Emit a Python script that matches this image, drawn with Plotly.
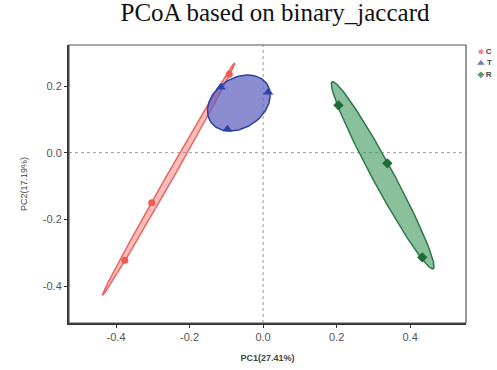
import numpy as np
import plotly.graph_objects as go

groups = ["C", "T", "R"]
c_pc1 = [-0.092, -0.303, -0.376]
c_pc2 = [0.235, -0.150, -0.323]
t_pc1 = [-0.115, 0.014, -0.097]
t_pc2 = [0.196, 0.181, 0.070]
r_pc1 = [0.205, 0.338, 0.433]
r_pc2 = [0.142, -0.032, -0.314]

x_ticks = [-0.4, -0.2, 0.0, 0.2, 0.4]
y_ticks = [-0.4, -0.2, 0.0, 0.2]

ELL_SCALE = 1.22

def ellipse(xs, ys, k=ELL_SCALE, n=120):
    pts = np.column_stack([xs, ys])
    mu = pts.mean(axis=0)
    cov = np.cov(pts.T)
    vals, vecs = np.linalg.eigh(cov)
    vals = np.clip(vals, 1e-8, None)
    t = np.linspace(0, 2 * np.pi, n)
    circ = np.vstack([np.cos(t), np.sin(t)])
    e = vecs @ (np.sqrt(vals)[:, None] * circ) * k
    return mu[0] + e[0], mu[1] + e[1]

styles = {
    "C": dict(x=c_pc1, y=c_pc2, fill="rgba(240,110,105,0.45)", line="#F0625F",
              mcolor="#EE5A55", symbol="circle", size=7, lsize=6),
    "T": dict(x=t_pc1, y=t_pc2, fill="rgba(95,95,190,0.72)", line="#2E3FA6",
              mcolor="#2A45A8", symbol="triangle-up", size=9, lsize=8),
    "R": dict(x=r_pc1, y=r_pc2, fill="rgba(60,150,90,0.6)", line="#2D7A48",
              mcolor="#1E6B3A", symbol="diamond", size=8, lsize=6),
}

fig = go.Figure()
for g in groups:
    s = styles[g]
    ex, ey = ellipse(s["x"], s["y"])
    fig.add_trace(go.Scatter(x=ex, y=ey, mode="lines", fill="toself",
                             fillcolor=s["fill"], line=dict(color=s["line"], width=1.5),
                             showlegend=False, hoverinfo="skip"))
for g in groups:
    s = styles[g]
    fig.add_trace(go.Scatter(x=s["x"], y=s["y"], mode="markers", name=g, showlegend=False,
                             marker=dict(symbol=s["symbol"], size=s["size"], color=s["mcolor"])))

# manual legend in its own small axes
n = len(groups)
fig.add_trace(go.Scatter(
    x=[0] * n, y=list(range(n - 1, -1, -1)), mode="markers+text",
    text=[f"<b>{g}</b>" for g in groups], textposition="middle right",
    textfont=dict(family="Liberation Sans", size=8, color="#444444"),
    marker=dict(symbol=[styles[g]["symbol"] for g in groups],
                size=[styles[g]["lsize"] for g in groups],
                color=[styles[g]["mcolor"] for g in groups]),
    xaxis="x2", yaxis="y2", showlegend=False, hoverinfo="skip", cliponaxis=False))

fig.add_shape(type="line", x0=0, x1=0, y0=0, y1=1, xref="x", yref="y domain",
              line=dict(color="#999999", width=1, dash="dot"), layer="below")
fig.add_shape(type="line", x0=0, x1=1, y0=0, y1=0, xref="x domain", yref="y",
              line=dict(color="#999999", width=1, dash="dot"), layer="below")
fig.add_shape(type="rect", x0=0, x1=1, y0=0, y1=1, xref="x domain", yref="y domain",
              line=dict(color="#555555", width=1.2), layer="above")

W, H = 497, 370
fig.update_layout(
    width=W, height=H,
    margin=dict(l=0, r=0, t=0, b=0),
    paper_bgcolor="white", plot_bgcolor="white",
    showlegend=False,
    title=dict(text="PCoA based on binary_jaccard", x=275 / W, xanchor="center",
               y=1 - 12 / H, yanchor="middle", xref="paper", yref="paper",
               font=dict(family="Liberation Serif", size=25, color="#111111")),
    xaxis=dict(domain=[69 / W, 466 / W], range=[-0.528, 0.552], tickvals=x_ticks,
               ticktext=[f"{v:.1f}" for v in x_ticks],
               showgrid=False, zeroline=False, showline=True, linecolor="#333333", linewidth=2,
               mirror=False, ticks="outside", ticklen=3, tickcolor="#333333",
               tickfont=dict(family="Liberation Sans", size=11, color="#555555"),
               title=dict(text="<b>PC1(27.41%)</b>", standoff=12,
                          font=dict(family="Liberation Sans", size=9, color="#444444"))),
    yaxis=dict(domain=[1 - 323 / H, 1 - 45 / H], range=[-0.511, 0.323], tickvals=y_ticks,
               ticktext=[f"{v:.1f}" for v in y_ticks],
               showgrid=False, zeroline=False, showline=True, linecolor="#333333", linewidth=2,
               mirror=False, ticks="outside", ticklen=3, tickcolor="#333333",
               tickfont=dict(family="Liberation Sans", size=11, color="#555555"),
               title=dict(text="PC2(17.19%)", standoff=14,
                          font=dict(family="Liberation Sans", size=9, color="#444444"))),
    xaxis2=dict(domain=[474 / W, 1], range=[-0.3, 0.7], visible=False, fixedrange=True),
    yaxis2=dict(domain=[1 - 80.5 / H, 1 - 46 / H], range=[-0.5, 2.5], visible=False, fixedrange=True),
)

fig.write_html("out.html", config={"displayModeBar": False},
               post_script="document.body.style.margin='0';")
